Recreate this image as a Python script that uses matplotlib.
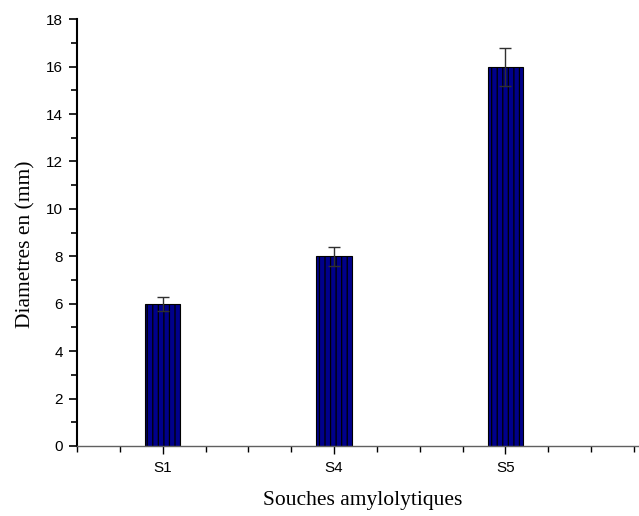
import matplotlib
matplotlib.use("Agg")
import matplotlib.pyplot as plt
from matplotlib.ticker import MultipleLocator

# Strains and measured zone diameters (mm)
souches = ["S1", "S4", "S5"]
diametres = [6.0, 8.0, 16.0]
erreurs = [0.3, 0.4, 0.8]

positions = [1, 2, 3]

plt.rcParams['hatch.linewidth'] = 0.9
plt.rcParams['hatch.color'] = 'black'

fig = plt.figure(figsize=(6.39, 5.16), dpi=100)
ax = fig.add_axes([0.1205, 0.1357, 0.8795, 0.827])

ax.bar(positions, diametres, width=0.205, color='#00008b', edgecolor='black',
       linewidth=0.8, hatch='|||', zorder=2)
ax.errorbar(positions, diametres, yerr=erreurs, fmt='none', ecolor='#303030',
            elinewidth=1.0, capsize=4, capthick=1.0, zorder=3)

ax.set_xlim(0.5, 3.78)
ax.set_ylim(0, 18)
ax.set_xticks(positions)
ax.set_xticklabels(souches)
ax.xaxis.set_minor_locator(MultipleLocator(0.25))
ax.yaxis.set_major_locator(MultipleLocator(2))
ax.yaxis.set_minor_locator(MultipleLocator(1))

ax.tick_params(axis='both', labelsize=11, labelfontfamily='Liberation Sans')
ax.tick_params(axis='x', which='major', direction='out', length=6, width=1, pad=5)
ax.tick_params(axis='x', which='minor', direction='out', length=4, width=1)
ax.tick_params(axis='y', which='major', direction='out', length=6, width=1.2, pad=4)
ax.tick_params(axis='y', which='minor', direction='out', length=4, width=1.2)

ax.spines['top'].set_visible(False)
ax.spines['right'].set_visible(False)
ax.spines['left'].set_linewidth(1.5)
ax.spines['bottom'].set_linewidth(1.0)
ax.spines['bottom'].set_color('#606060')

ax.set_xlabel("Souches amylolytiques", fontfamily='Liberation Serif', fontsize=15.5)
ax.set_ylabel("Diametres en (mm)", fontfamily='Liberation Serif', fontsize=15.5)
ax.xaxis.set_label_coords(0.509, -0.105, transform=ax.transAxes)
ax.yaxis.set_label_coords(-0.073, 0.473, transform=ax.transAxes)

fig.savefig("out.png", dpi=100)
